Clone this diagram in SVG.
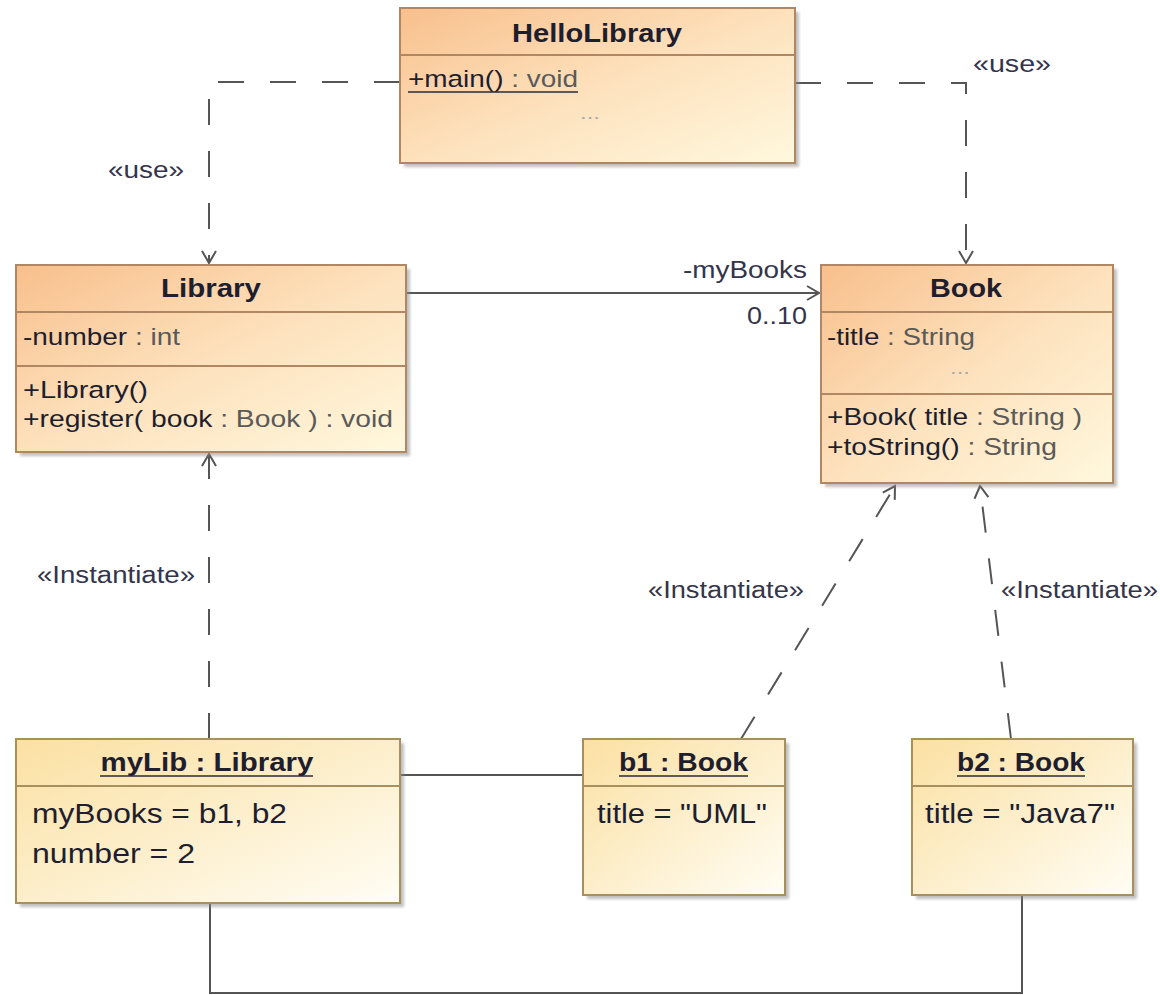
<svg xmlns="http://www.w3.org/2000/svg" width="1160" height="995" viewBox="0 0 1160 995">
  <style>
    text { font-family: "Liberation Sans", Arial, sans-serif; fill: #1e1e2e; }
    .name { font-weight: bold; font-size: 26px; text-anchor: middle; }
    .member { font-size: 24.5px; }
    .slot { font-size: 27px; }
    .label { font-size: 23px; fill: #34344a; }
    .type { fill: #5a5a5a; }
    .dots { font-size: 18px; fill: #aaaaaa; text-anchor: middle; }
    .cls { fill: url(#gClass); stroke: #b08762; stroke-width: 2; }
    .obj { fill: url(#gObj); stroke: #a8905e; stroke-width: 2; }
    .div { stroke: #b08762; stroke-width: 2; }
    .divo { stroke: #a8905e; stroke-width: 2; }
    .shadow { fill: #8c8c8c; opacity: 0.55; filter: url(#soft); }
    .ul { stroke: #2a2a3a; stroke-width: 1.6; }
    .edge { fill: none; stroke: #555555; stroke-width: 2; }
    .dash { stroke-dasharray: 26 26; }
  </style>
  <defs>
    <linearGradient id="gClass" x1="0" y1="0" x2="1" y2="1">
      <stop offset="0" stop-color="#f8bf8c"/>
      <stop offset="0.5" stop-color="#fde1bc"/>
      <stop offset="1" stop-color="#fff8de"/>
    </linearGradient>
    <linearGradient id="gObj" x1="0" y1="0" x2="1" y2="1">
      <stop offset="0" stop-color="#fbe0a2"/>
      <stop offset="0.55" stop-color="#fdf0cf"/>
      <stop offset="1" stop-color="#fffdf4"/>
    </linearGradient>
    <filter id="soft" x="-5%" y="-5%" width="110%" height="110%">
      <feGaussianBlur stdDeviation="1.5"/>
    </filter>
    <marker id="open" viewBox="0 0 16 16" refX="14" refY="8" markerWidth="16" markerHeight="16" markerUnits="userSpaceOnUse" orient="auto">
      <path d="M2,1 L14,8 L2,15" fill="none" stroke="#555555" stroke-width="2"/>
    </marker>
  </defs>

  <rect width="1160" height="995" fill="#ffffff"/>

  <!-- connectors -->
  <g id="connectors">
    <path class="edge dash" d="M400,82 H209 V263" marker-end="url(#open)"/>
    <path class="edge dash" d="M795,83 H966 V263" marker-end="url(#open)"/>
    <path class="edge" d="M406,293 H819" marker-end="url(#open)"/>
    <path class="edge dash" d="M209,739 V454" marker-end="url(#open)"/>
    <path class="edge dash" d="M741,739 L895,486" marker-end="url(#open)"/>
    <path class="edge dash" d="M1011,739 L980,486" marker-end="url(#open)"/>
    <path class="edge" d="M400,775 H583"/>
    <path class="edge" d="M210,903 V993 H1022 V895"/>

    <text class="label" x="108" y="178" textLength="76" lengthAdjust="spacingAndGlyphs">«use»</text>
    <text class="label" x="973" y="72" textLength="78" lengthAdjust="spacingAndGlyphs">«use»</text>
    <text class="label" x="807" y="278" text-anchor="end" textLength="124" lengthAdjust="spacingAndGlyphs">-myBooks</text>
    <text class="label" x="807" y="324" text-anchor="end" textLength="60" lengthAdjust="spacingAndGlyphs">0..10</text>
    <text class="label" x="37" y="583" textLength="158" lengthAdjust="spacingAndGlyphs">«Instantiate»</text>
    <text class="label" x="648" y="598" textLength="156" lengthAdjust="spacingAndGlyphs">«Instantiate»</text>
    <text class="label" x="1001" y="598" textLength="157" lengthAdjust="spacingAndGlyphs">«Instantiate»</text>
  </g>

  <!-- class HelloLibrary -->
  <g id="HelloLibrary">
    <rect class="shadow" x="404" y="12" width="395" height="155"/>
    <rect class="cls" x="400" y="8" width="395" height="155"/>
    <line class="div" x1="400" y1="55" x2="795" y2="55"/>
    <text class="name" x="597" y="42" textLength="170" lengthAdjust="spacingAndGlyphs">HelloLibrary</text>
    <text class="member" x="408" y="87" textLength="170" lengthAdjust="spacingAndGlyphs"><tspan>+main()</tspan><tspan class="type"> : void</tspan></text>
    <line class="ul" x1="408" y1="92" x2="578" y2="92"/>
    <text class="dots" x="590" y="119" textLength="20" lengthAdjust="spacingAndGlyphs">...</text>
  </g>

  <!-- class Library -->
  <g id="Library">
    <rect class="shadow" x="20" y="269" width="390" height="187"/>
    <rect class="cls" x="16" y="265" width="390" height="187"/>
    <line class="div" x1="16" y1="312" x2="406" y2="312"/>
    <line class="div" x1="16" y1="366" x2="406" y2="366"/>
    <text class="name" x="211" y="297" textLength="100" lengthAdjust="spacingAndGlyphs">Library</text>
    <text class="member" x="23" y="345" textLength="157" lengthAdjust="spacingAndGlyphs"><tspan>-number</tspan><tspan class="type"> : int</tspan></text>
    <text class="member" x="23" y="398" textLength="125" lengthAdjust="spacingAndGlyphs">+Library()</text>
    <text class="member" x="23" y="427" textLength="370" lengthAdjust="spacingAndGlyphs"><tspan>+register( book</tspan><tspan class="type"> : Book ) : void</tspan></text>
  </g>

  <!-- class Book -->
  <g id="Book">
    <rect class="shadow" x="825" y="269" width="292" height="218"/>
    <rect class="cls" x="821" y="265" width="292" height="218"/>
    <line class="div" x1="821" y1="312" x2="1113" y2="312"/>
    <line class="div" x1="821" y1="394" x2="1113" y2="394"/>
    <text class="name" x="966" y="297" textLength="72" lengthAdjust="spacingAndGlyphs">Book</text>
    <text class="member" x="827" y="345" textLength="148" lengthAdjust="spacingAndGlyphs"><tspan>-title</tspan><tspan class="type"> : String</tspan></text>
    <text class="dots" x="960" y="374" textLength="20" lengthAdjust="spacingAndGlyphs">...</text>
    <text class="member" x="827" y="425" textLength="255" lengthAdjust="spacingAndGlyphs"><tspan>+Book( title</tspan><tspan class="type"> : String )</tspan></text>
    <text class="member" x="827" y="455" textLength="230" lengthAdjust="spacingAndGlyphs"><tspan>+toString()</tspan><tspan class="type"> : String</tspan></text>
  </g>

  <!-- instance myLib : Library -->
  <g id="myLib">
    <rect class="shadow" x="20" y="743" width="384" height="164"/>
    <rect class="obj" x="16" y="739" width="384" height="164"/>
    <line class="divo" x1="16" y1="786" x2="400" y2="786"/>
    <text class="name" x="207" y="771" textLength="213" lengthAdjust="spacingAndGlyphs">myLib : Library</text>
    <line class="ul" x1="100" y1="776" x2="313" y2="776"/>
    <text class="slot" x="32" y="823" textLength="255" lengthAdjust="spacingAndGlyphs">myBooks = b1, b2</text>
    <text class="slot" x="32" y="863" textLength="163" lengthAdjust="spacingAndGlyphs">number = 2</text>
  </g>

  <!-- instance b1 : Book -->
  <g id="b1">
    <rect class="shadow" x="587" y="743" width="202" height="156"/>
    <rect class="obj" x="583" y="739" width="202" height="156"/>
    <line class="divo" x1="583" y1="786" x2="785" y2="786"/>
    <text class="name" x="683.5" y="771" textLength="129" lengthAdjust="spacingAndGlyphs">b1 : Book</text>
    <line class="ul" x1="619" y1="776" x2="748" y2="776"/>
    <text class="slot" x="597" y="823" textLength="170" lengthAdjust="spacingAndGlyphs">title = "UML"</text>
  </g>

  <!-- instance b2 : Book -->
  <g id="b2">
    <rect class="shadow" x="916" y="743" width="221" height="156"/>
    <rect class="obj" x="912" y="739" width="221" height="156"/>
    <line class="divo" x1="912" y1="786" x2="1133" y2="786"/>
    <text class="name" x="1021" y="771" textLength="128" lengthAdjust="spacingAndGlyphs">b2 : Book</text>
    <line class="ul" x1="957" y1="776" x2="1085" y2="776"/>
    <text class="slot" x="925" y="823" textLength="190" lengthAdjust="spacingAndGlyphs">title = "Java7"</text>
  </g>
</svg>
